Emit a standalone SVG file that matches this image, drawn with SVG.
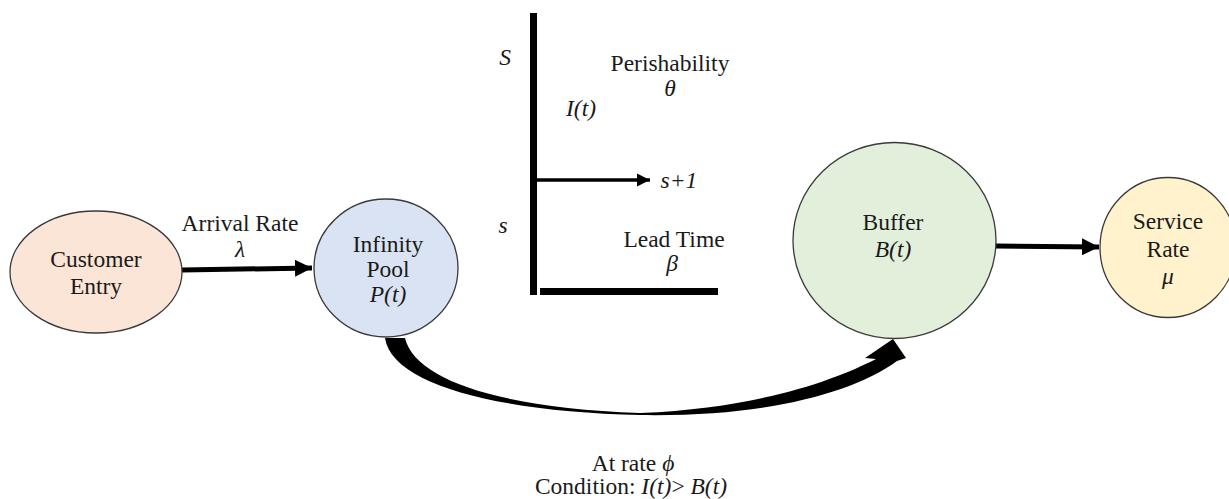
<svg xmlns="http://www.w3.org/2000/svg" width="1229" height="499" viewBox="0 0 1229 499">
<defs>
<style>
text{font-size:23.5px;fill:#1a1a1a;text-anchor:middle}
.it{font-style:italic}
.node{stroke:#3a3a3a;stroke-width:1.3}
.conn{stroke:#000;fill:none}
</style>
<marker id="ah" viewBox="0 0 10 10" refX="10" refY="5" markerWidth="3.4" markerHeight="3.4" markerUnits="strokeWidth" orient="auto">
<path d="M0 0 L10 5 L0 10 Z" fill="#000"/>
</marker>
<marker id="ahs" viewBox="0 0 10 10" refX="10" refY="5" markerWidth="3.8" markerHeight="3.8" markerUnits="strokeWidth" orient="auto">
<path d="M0 0 L10 5 L0 10 Z" fill="#000"/>
</marker>
</defs>
<rect width="1229" height="499" fill="#fff"/>
<g font-family="'Liberation Serif', 'Times New Roman', 'DejaVu Serif', serif">
<g id="connectors">
<line class="conn" x1="182" y1="270" x2="312" y2="268" stroke-width="5" marker-end="url(#ah)"/>
<line class="conn" x1="996" y1="246" x2="1099" y2="247" stroke-width="5" marker-end="url(#ah)"/>
<path d="M385 338 C392 385 500 412 640 415 C760 417 850 395 897 361 L906 358 L893 339 L865 358 L876 359 C835 380 760 408 640 413 C500 408 415 380 405 338 Z" fill="#000"/>
</g>

<g id="inventory">
<rect x="530" y="13" width="7" height="282" fill="#000"/>
<rect x="540" y="288" width="178" height="7" fill="#000"/>
<line class="conn" x1="537" y1="180" x2="650" y2="180" stroke-width="3.5" marker-end="url(#ahs)"/>
<text class="it" x="505" y="65">S</text>
<text class="it" x="503" y="233">s</text>
<text class="it" x="581" y="116">I(t)</text>
<text x="670" y="71">Perishability</text>
<text class="it" x="670" y="96">θ</text>
<text class="it" x="679" y="188">s+1</text>
<text x="674" y="247">Lead Time</text>
<text class="it" x="672" y="271">β</text>
</g>

<g id="customer-entry">
<ellipse class="node" cx="96" cy="272" rx="86" ry="61" fill="#fbe5d6"/>
<text x="96" y="267">Customer</text>
<text x="96" y="294">Entry</text>
</g>

<g id="arrival-label">
<text x="240" y="231">Arrival Rate</text>
<text class="it" x="240" y="257">λ</text>
</g>

<g id="infinity-pool">
<ellipse class="node" cx="386" cy="268" rx="72" ry="69" fill="#dae3f3"/>
<text x="388" y="252">Infinity</text>
<text x="388" y="277">Pool</text>
<text class="it" x="388" y="302">P(t)</text>
</g>

<g id="buffer">
<ellipse class="node" cx="894.5" cy="240.5" rx="101.5" ry="98" fill="#e2efda"/>
<text x="893" y="230">Buffer</text>
<text class="it" x="893" y="257">B(t)</text>
</g>

<g id="service-rate">
<ellipse class="node" cx="1168" cy="247.5" rx="68" ry="70" fill="#fff2cc"/>
<text x="1168" y="229">Service</text>
<text x="1168" y="257">Rate</text>
<text class="it" x="1168" y="284">μ</text>
</g>

<g id="transfer-label">
<text x="633" y="471">At rate <tspan class="it">ϕ</tspan></text>
<text x="631" y="494">Condition: <tspan class="it">I(t)</tspan>&gt; <tspan class="it">B(t)</tspan></text>
</g>
</g>
</svg>
